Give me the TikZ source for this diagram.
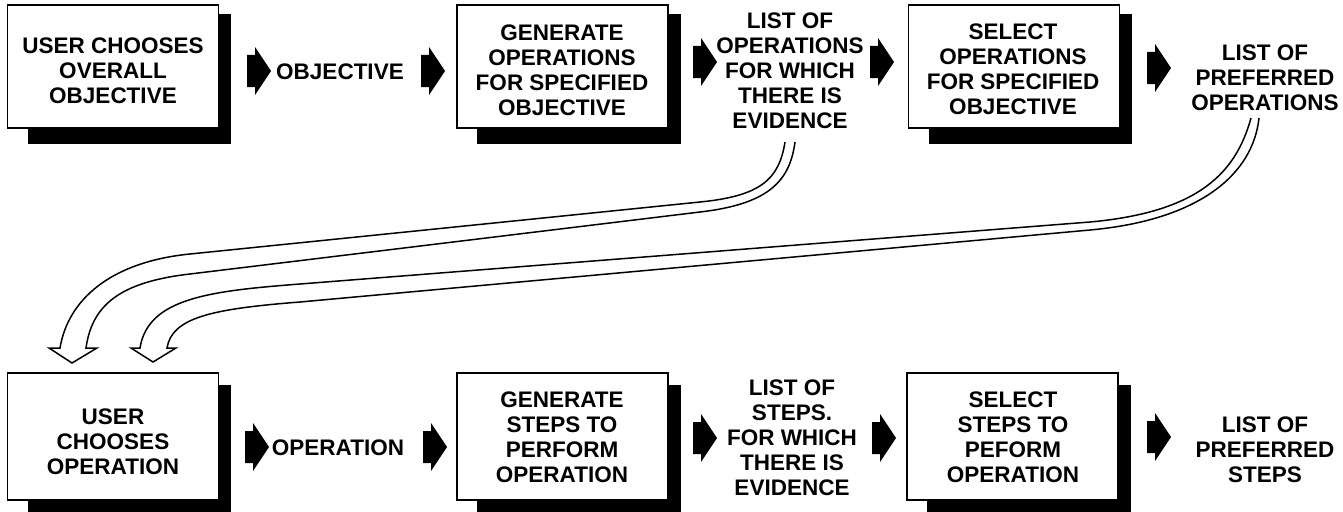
\documentclass[tikz,border=0pt]{standalone}
\usepackage{fontspec}
\setmainfont{Liberation Sans}
\usetikzlibrary{backgrounds}
\begin{document}
\begin{tikzpicture}[x=1pt,y=-1pt,
  lbl/.style={font=\bfseries\fontsize{22.5}{25}\selectfont, align=center, inner sep=0pt},
  panel/.style={draw=black, line width=1.6pt, fill=white, inner sep=0pt, minimum width=211pt},
  toppanel/.style={panel, minimum height=123pt},
  lowpanel/.style={panel, minimum height=127pt},
  blockarrow/.pic={\fill (0,-16) -- (8,-16) -- (8,-24) -- (24,0) -- (8,24) -- (8,16) -- (0,16) -- cycle;},
  hollow/.style={draw=black, line width=1.5pt, line join=miter, fill=white}
]
\useasboundingbox (0,0) rectangle (1343,511);

% ---- panels of the upper chain
\node[toppanel] (b1) at (113,66.5) {};
\node[toppanel] (b2) at (562.5,66.5) {};
\node[toppanel] (b3) at (1014,66.5) {};
% ---- panels of the lower chain
\node[lowpanel] (b4) at (113,436.5) {};
\node[lowpanel] (b5) at (562.5,436.5) {};
\node[lowpanel] (b6) at (1012.5,436.5) {};

% drop shadows behind the panels
\begin{scope}[on background layer]
  \foreach \b in {b1,b2,b3}
    \fill ([xshift=12pt,yshift=-10pt]\b.north east) rectangle ([xshift=21pt,yshift=-15pt]\b.south west);
  \foreach \b in {b4,b5,b6}
    \fill ([xshift=12pt,yshift=-13pt]\b.north east) rectangle ([xshift=21pt,yshift=-15pt]\b.south west);
\end{scope}

% ---- texts, upper chain
\node[lbl] (t1) at (113,70.5) {USER CHOOSES\\OVERALL\\OBJECTIVE};
\node[lbl] (o1) at (340,72) {OBJECTIVE};
\node[lbl] (t2) at (562,70.5) {GENERATE\\OPERATIONS\\FOR SPECIFIED\\OBJECTIVE};
\node[lbl] (l1) at (790,71) {LIST OF\\OPERATIONS\\FOR WHICH\\THERE IS\\EVIDENCE};
\node[lbl] (t3) at (1013,69.5) {SELECT\\OPERATIONS\\FOR SPECIFIED\\OBJECTIVE};
\node[lbl] (p1) at (1265,78) {LIST OF\\PREFERRED\\OPERATIONS};

% ---- texts, lower chain
\node[lbl] (t4) at (113,442) {USER\\CHOOSES\\OPERATION};
\node[lbl] (o2) at (338,448) {OPERATION};
\node[lbl] (t5) at (562,437.5) {GENERATE\\STEPS TO\\PERFORM\\OPERATION};
\node[lbl] (l2) at (792,438) {LIST OF\\STEPS.\\FOR WHICH\\THERE IS\\EVIDENCE};
\node[lbl] (t6) at (1013,437.5) {SELECT\\STEPS TO\\PEFORM\\OPERATION};
\node[lbl] (p2) at (1265,450) {LIST OF\\PREFERRED\\STEPS};

% ---- solid block arrows between the stages
\pic (a1) at (247,71) {blockarrow};
\pic (a2) at (421,71) {blockarrow};
\pic (a3) at (693,62) {blockarrow};
\pic (a4) at (870,62) {blockarrow};
\pic (a5) at (1147,68) {blockarrow};
\pic (a6) at (245,447) {blockarrow};
\pic (a7) at (423,447) {blockarrow};
\pic (a8) at (693,438) {blockarrow};
\pic (a9) at (872,438) {blockarrow};
\pic (a10) at (1147,437) {blockarrow};

% ---- hollow feedback arrows into the lower chain
\coordinate (sA) at (790,142);
\coordinate (sB) at (1255,118);
\draw[hollow] ([xshift=-5pt]sA) .. controls (779,180) and (760,196) .. (700,202)
  -- (190,254) .. controls (110,262) and (68,300) .. (60,348)
  -- (49,348) -- (72,363) -- (97,348) -- (86,348)
  .. controls (92,305) and (120,282) .. (190,274)
  -- (700,212) .. controls (770,204) and (790,180) .. ([xshift=5pt]sA);
\draw[hollow] ([xshift=-4pt]sB) .. controls (1236,172) and (1200,212) .. (1090,222)
  -- (300,284) .. controls (210,291) and (148,298) .. (140,348)
  -- (131,348) -- (153,362) -- (176,348) -- (167,348)
  .. controls (172,318) and (210,309) .. (300,302)
  -- (1090,230) .. controls (1200,220) and (1253,174) .. ([xshift=4pt]sB);
\end{tikzpicture}
\end{document}
